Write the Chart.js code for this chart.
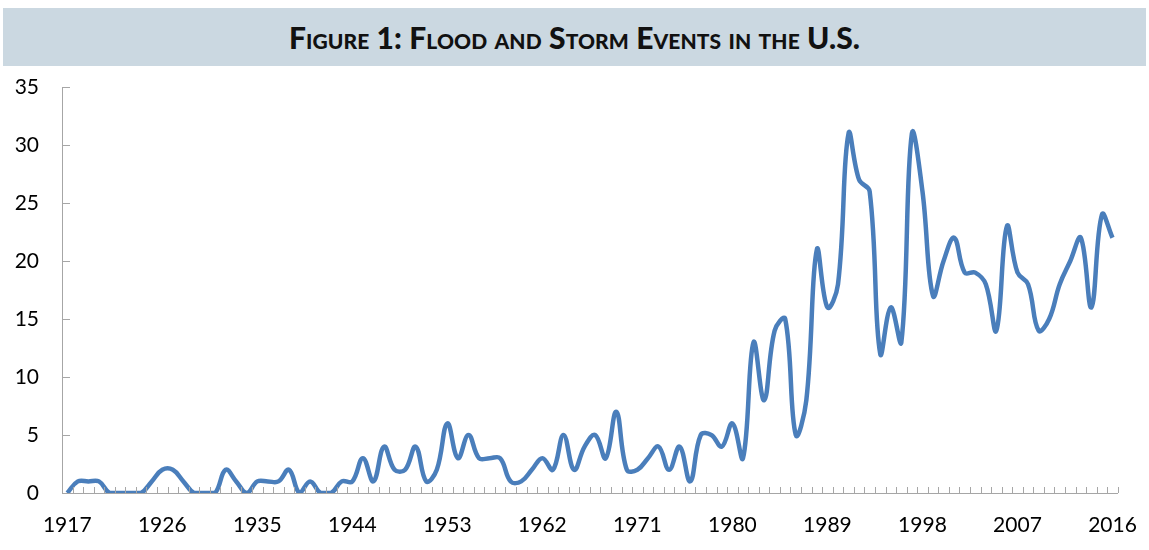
<!DOCTYPE html>
<html>
<head>
<meta charset="utf-8">
<script src="https://cdn.jsdelivr.net/npm/chart.js@4"></script>
<style>
  html, body { margin: 0; padding: 0; background: #fff; }
  #wrap { position: relative; width: 1149px; height: 550px; }
  #title-bar {
    position: absolute; left: 3px; top: 8px; width: 1143px; height: 58px;
    background: #cbd8e1;
    display: flex; align-items: center; justify-content: center;
    font-family: Lato, sans-serif; font-weight: 900; font-size: 30px;
    font-variant: small-caps; color: #111; letter-spacing: 0.1px;
  }
  #chart-box { position: absolute; left: 0; top: 0; width: 1149px; height: 550px; }
</style>
</head>
<body>
<div id="wrap">
  <div id="chart-box"><canvas id="flood-chart"></canvas></div>
  <div id="title-bar">Figure 1: Flood and Storm Events in the U.S.</div>
</div>
<script>
const years = [
  1917, 1918, 1919, 1920, 1921, 1922, 1923, 1924, 1925, 1926,
  1927, 1928, 1929, 1930, 1931, 1932, 1933, 1934, 1935, 1936,
  1937, 1938, 1939, 1940, 1941, 1942, 1943, 1944, 1945, 1946,
  1947, 1948, 1949, 1950, 1951, 1952, 1953, 1954, 1955, 1956,
  1957, 1958, 1959, 1960, 1961, 1962, 1963, 1964, 1965, 1966,
  1967, 1968, 1969, 1970, 1971, 1972, 1973, 1974, 1975, 1976,
  1977, 1978, 1979, 1980, 1981, 1982, 1983, 1984, 1985, 1986,
  1987, 1988, 1989, 1990, 1991, 1992, 1993, 1994, 1995, 1996,
  1997, 1998, 1999, 2000, 2001, 2002, 2003, 2004, 2005, 2006,
  2007, 2008, 2009, 2010, 2011, 2012, 2013, 2014, 2015, 2016
];

// events per year
const events = [
  0, 1, 1, 1, 0, 0, 0, 0, 1, 2,
  2, 1, 0, 0, 0, 2, 1, 0, 1, 1,
  1, 2, 0, 1, 0, 0, 1, 1, 3, 1,
  4, 2, 2, 4, 1, 2, 6, 3, 5, 3,
  3, 3, 1, 1, 2, 3, 2, 5, 2, 4,
  5, 3, 7, 2, 2, 3, 4, 2, 4, 1,
  5, 5, 4, 6, 3, 13, 8, 14, 15, 5,
  8, 21, 16, 18, 31, 27, 26, 12, 16, 13,
  31, 26, 17, 20, 22, 19, 19, 18, 14, 23,
  19, 18, 14, 15, 18, 20, 22, 16, 24, 22
];

const labeledYears = [1917, 1926, 1935, 1944, 1953, 1962, 1971, 1980, 1989, 1998, 2007, 2016];
const yTicks = [0, 5, 10, 15, 20, 25, 30, 35];

const AXIS_COLOR = '#a6a6a6';
const LINE_COLOR = '#4a7ebb';

// Excel-style tick marks drawn inside the plot area
const innerTicks = {
  id: 'innerTicks',
  afterDatasetsDraw(chart) {
    const { ctx, chartArea, scales } = chart;
    const x = scales.x;
    const y = scales.y;
    ctx.save();
    ctx.strokeStyle = AXIS_COLOR;
    ctx.lineWidth = 1;
    ctx.beginPath();
    const half = (x.getPixelForValue(1) - x.getPixelForValue(0)) / 2;
    for (let i = 0; i <= years.length; i++) {
      const px = Math.round(x.getPixelForValue(i) - half) + 0.5;
      ctx.moveTo(px, chartArea.bottom);
      ctx.lineTo(px, chartArea.bottom - 6);
    }
    yTicks.forEach(v => {
      const py = Math.round(y.getPixelForValue(v)) + 0.5;
      ctx.moveTo(chartArea.left, py);
      ctx.lineTo(chartArea.left + 8, py);
    });
    ctx.stroke();
    ctx.restore();
  }
};

const ctx = document.getElementById('flood-chart').getContext('2d');
new Chart(ctx, {
  type: 'line',
  data: {
    labels: years,
    datasets: [{
      label: 'Flood and storm events',
      data: events,
      borderColor: LINE_COLOR,
      borderWidth: 4.5,
      pointRadius: 0,
      tension: 0.4,
      fill: false
    }]
  },
  options: {
    responsive: true,
    maintainAspectRatio: false,
    animation: false,
    layout: { padding: { top: 87, left: 0, right: 27, bottom: 0 } },
    plugins: {
      legend: { display: false },
      tooltip: { enabled: false }
    },
    scales: {
      x: {
        type: 'category',
        offset: true,
        grid: { display: false, offset: true },
        border: { display: true, color: AXIS_COLOR, width: 1 },
        ticks: {
          autoSkip: false,
          maxRotation: 0,
          padding: 12,
          color: '#000',
          font: { family: 'Lato', size: 21 },
          callback: function(value) {
            const yr = this.getLabelForValue(value);
            return labeledYears.includes(Number(yr)) ? String(yr) : '';
          }
        },
        afterFit(scale) { scale.height = 57; }
      },
      y: {
        min: 0,
        max: 35,
        grid: { display: false },
        border: { display: true, color: AXIS_COLOR, width: 1 },
        ticks: {
          stepSize: 5,
          padding: 15,
          color: '#000',
          font: { family: 'Lato', size: 21 }
        },
        afterFit(scale) { scale.width = 62; }
      }
    }
  },
  plugins: [innerTicks]
});
</script>
</body>
</html>
